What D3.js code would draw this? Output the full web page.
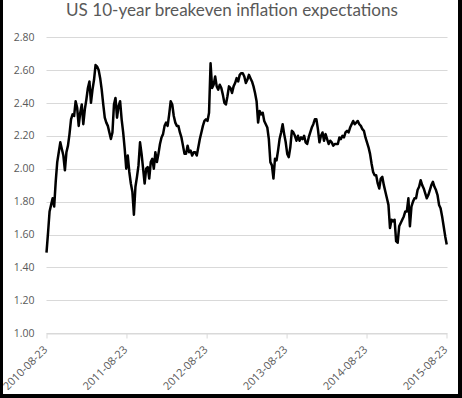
<!DOCTYPE html>
<html>
<head>
<meta charset="utf-8">
<script src="https://cdn.jsdelivr.net/npm/d3@7"></script>
<style>
  html, body { margin: 0; padding: 0; background: white; }
</style>
</head>
<body>
<div id="container"></div>
<script>
// weekly readings, starting on the first date below
const startDate = '2010-08-23';
const year1 = [1.49, 1.61, 1.74, 1.78, 1.82, 1.77, 1.92, 2.04, 2.10, 2.16, 2.12, 2.08, 1.99,
    2.10, 2.14, 2.21, 2.30, 2.33, 2.32, 2.41, 2.37, 2.26, 2.34, 2.39, 2.27, 2.36, 2.42, 2.49,
    2.53, 2.40, 2.48, 2.54, 2.63, 2.62, 2.60, 2.55, 2.48, 2.39, 2.31, 2.28, 2.26, 2.22, 2.18,
    2.22, 2.39, 2.43, 2.31, 2.38, 2.41, 2.30, 2.22, 2.12];
const year2 = [2.00, 2.08, 1.98, 1.91, 1.86, 1.72, 1.89, 1.95, 2.02, 2.16, 2.09, 2.00, 1.91,
    2.00, 2.01, 1.94, 2.04, 2.06, 2.00, 2.10, 2.04, 2.09, 2.15, 2.19, 2.21, 2.26, 2.28, 2.26,
    2.33, 2.41, 2.39, 2.32, 2.28, 2.26, 2.26, 2.22, 2.19, 2.14, 2.09, 2.09, 2.14, 2.10, 2.11,
    2.08, 2.10, 2.10, 2.08, 2.13, 2.18, 2.22, 2.26, 2.29];
const year3 = [2.30, 2.29, 2.34, 2.64, 2.49, 2.51, 2.56, 2.50, 2.48, 2.51, 2.49, 2.45, 2.40,
    2.39, 2.44, 2.50, 2.49, 2.46, 2.50, 2.52, 2.55, 2.53, 2.57, 2.58, 2.58, 2.56, 2.52, 2.54,
    2.57, 2.55, 2.53, 2.50, 2.46, 2.41, 2.28, 2.35, 2.33, 2.34, 2.29, 2.27, 2.25, 2.18, 2.04,
    2.02, 1.94, 2.06, 2.05, 2.11, 2.18, 2.22, 2.27, 2.21];
const year4 = [2.16, 2.09, 2.07, 2.13, 2.23, 2.22, 2.20, 2.17, 2.20, 2.17, 2.19, 2.18, 2.20,
    2.16, 2.15, 2.19, 2.22, 2.25, 2.27, 2.30, 2.30, 2.24, 2.16, 2.20, 2.22, 2.17, 2.21, 2.18,
    2.15, 2.17, 2.16, 2.14, 2.15, 2.15, 2.15, 2.19, 2.18, 2.20, 2.19, 2.22, 2.23, 2.22, 2.25,
    2.27, 2.29, 2.27, 2.28, 2.29, 2.27, 2.26, 2.24, 2.23];
const year5 = [2.19, 2.16, 2.13, 2.09, 2.03, 1.98, 1.96, 1.96, 1.91, 1.88, 1.94, 1.95, 1.90,
    1.86, 1.82, 1.78, 1.64, 1.69, 1.68, 1.69, 1.56, 1.55, 1.65, 1.67, 1.69, 1.71, 1.74, 1.74,
    1.82, 1.65, 1.77, 1.80, 1.82, 1.82, 1.87, 1.89, 1.93, 1.90, 1.88, 1.85, 1.82, 1.84, 1.87,
    1.90, 1.92, 1.89, 1.87, 1.84, 1.78, 1.76, 1.71, 1.65, 1.59, 1.54];

const xTickLabels = ['2010-08-23', '2011-08-23', '2012-08-23', '2013-08-23', '2014-08-23', '2015-08-23'];
const yTicks = [1.00, 1.20, 1.40, 1.60, 1.80, 2.00, 2.20, 2.40, 2.60, 2.80];
const title = 'US 10-year breakeven inflation expectations';

const W = 462, H = 398;
const parse = d3.timeParse('%Y-%m-%d');
const start = parse(startDate);

let values = year1.concat(year2, year3, year4, year5);
let data = values.map(function (v, i) {
    return { date: d3.timeDay.offset(start, 7 * i), value: v };
});

let viz = d3.select('#container')
    .append('svg')
    .attr('width', W)
    .attr('height', H)
    .style('display', 'block')
    ;

let x = d3.scaleTime()
    .domain([parse(xTickLabels[0]), parse(xTickLabels[xTickLabels.length - 1])])
    .range([46.5, 446.5]);

let y = d3.scaleLinear()
    .domain([1.0, 2.8])
    .range([333.3, 37]);

// gridlines
viz.append('g')
    .selectAll('line')
    .data(yTicks)
    .enter()
    .append('line')
    .attr('x1', x.range()[0])
    .attr('x2', x.range()[1] + 1)
    .attr('y1', d => Math.round(y(d)) + 0.5)
    .attr('y2', d => Math.round(y(d)) + 0.5)
    .attr('stroke', '#d9d9d9')
    .attr('stroke-width', 1);

// y labels
viz.append('g')
    .selectAll('text')
    .data(yTicks)
    .enter()
    .append('text')
    .attr('x', 34.5)
    .attr('y', d => y(d))
    .attr('dy', '0.35em')
    .attr('text-anchor', 'end')
    .attr('font-family', 'Open Sans, sans-serif')
    .attr('font-size', 10.5)
    .attr('fill', '#595959')
    .text(d => d.toFixed(2));

// x axis
let xAxis = d3.axisBottom(x)
    .tickValues(xTickLabels.map(parse))
    .tickFormat(d3.timeFormat('%Y-%m-%d'))
    .tickSize(5)
    .tickSizeOuter(0);

let gx = viz.append('g')
    .attr('transform', 'translate(0,' + (Math.round(y(1.0)) + 0.5) + ')')
    .call(xAxis);

gx.select('.domain').attr('stroke', '#d9d9d9');
gx.selectAll('.tick line').attr('stroke', '#d9d9d9');
gx.selectAll('.tick text')
    .attr('font-family', 'Open Sans, sans-serif')
    .attr('font-size', 11)
    .attr('fill', '#595959')
    .attr('text-anchor', 'end')
    .attr('transform', 'translate(-1.5,14) rotate(-45)')
    .attr('y', 0)
    .attr('x', 0)
    .attr('dy', '0.35em');

// the series
let line = d3.line()
    .x(d => x(d.date))
    .y(d => y(d.value));

viz.append('path')
    .datum(data)
    .attr('d', line)
    .attr('fill', 'none')
    .attr('stroke', 'black')
    .attr('stroke-width', 2.5)
    .attr('stroke-linejoin', 'round');

// title, sized to the width it has in the original
let t = viz.append('text')
    .attr('x', 232)
    .attr('y', 16)
    .attr('text-anchor', 'middle')
    .attr('font-family', 'Lato, sans-serif')
    .attr('font-size', 16)
    .attr('fill', '#595959')
    .text(title);
let tw = t.node().getComputedTextLength();
t.attr('font-size', 16 * 332 / tw);

// frame: left, bottom and right edges
let frame = [
    { x1: 1.5, y1: 0, x2: 1.5, y2: H, w: 3 },
    { x1: 0, y1: H - 2, x2: W, y2: H - 2, w: 4 },
    { x1: W - 2, y1: 0, x2: W - 2, y2: H, w: 4 }
];
viz.append('g')
    .selectAll('line')
    .data(frame)
    .enter()
    .append('line')
    .attr('x1', d => d.x1)
    .attr('y1', d => d.y1)
    .attr('x2', d => d.x2)
    .attr('y2', d => d.y2)
    .attr('stroke', 'black')
    .attr('stroke-width', d => d.w);
</script>
</body>
</html>
